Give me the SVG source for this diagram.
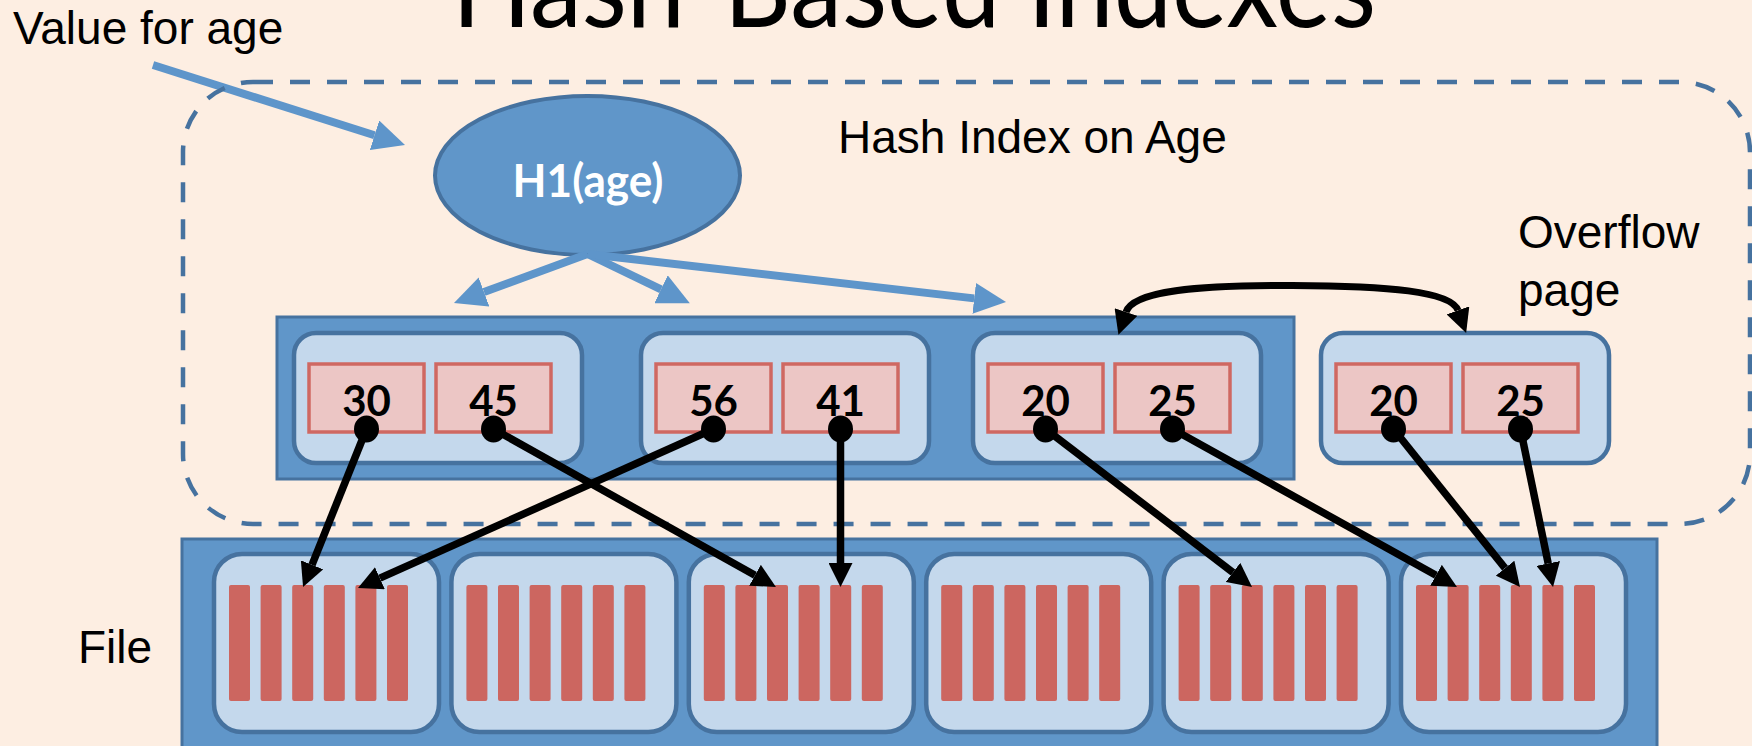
<svg xmlns="http://www.w3.org/2000/svg" xmlns:xlink="http://www.w3.org/1999/xlink" width="1752" height="746" viewBox="0 0 1752 746">
  <style>
    .lbl{font-family:"Liberation Sans",Arial,sans-serif;font-size:46px;fill:#000}
    .title{font-family:Lato,"Open Sans",sans-serif;font-size:114px;fill:#000}
    .num{font-family:Lato,"Liberation Sans",sans-serif;font-weight:bold;font-size:42px;fill:#000;text-anchor:middle}
    .fn{font-family:Lato,"Liberation Sans",sans-serif;font-weight:bold;font-size:45px;fill:#fff;text-anchor:middle}
    .frame{fill:#6096C9;stroke:#46729F;stroke-width:3}
    .bucket{fill:#C4D8EC;stroke:#46729F;stroke-width:4.5}
    .rec{fill:#ECC6C5;stroke:#CF6862;stroke-width:3.5}
    .bar{fill:#CC6660}
    .dot{fill:#000}
    .ptr{stroke:#000;stroke-width:7.5;fill:none;marker-end:url(#headK)}
    .hash{stroke:#5E95CA;stroke-width:8;fill:none;marker-end:url(#headB)}
    .scope{fill:none;stroke:#46729F;stroke-width:4.5;stroke-dasharray:20 17}
  </style>
  <defs>
    <marker id="headK" markerUnits="userSpaceOnUse" viewBox="0 0 24 24" markerWidth="24" markerHeight="24" refX="0" refY="12" orient="auto-start-reverse">
      <path d="M0,0 L24,12 L0,24 Z" fill="#000"/>
    </marker>
    <marker id="headB" markerUnits="userSpaceOnUse" viewBox="0 0 32 31" markerWidth="32" markerHeight="31" refX="0" refY="15.5" orient="auto">
      <path d="M0,0 L32,15.5 L0,31 Z" fill="#5E95CA"/>
    </marker>
    <!-- index bucket: light page holding two record slots -->
    <g id="bucketShape">
      <rect class="bucket" x="0" y="0" width="288" height="130" rx="22"/>
      <rect class="rec" x="15" y="31" width="115" height="68"/>
      <rect class="rec" x="142" y="31" width="115" height="68"/>
    </g>
    <!-- data file page with six records -->
    <g id="pageShape">
      <rect class="bucket" x="0" y="0" width="225" height="178" rx="28"/>
      <rect class="bar" x="15" y="31" width="21" height="116" rx="2"/>
      <rect class="bar" x="46.6" y="31" width="21" height="116" rx="2"/>
      <rect class="bar" x="78.2" y="31" width="21" height="116" rx="2"/>
      <rect class="bar" x="109.8" y="31" width="21" height="116" rx="2"/>
      <rect class="bar" x="141.4" y="31" width="21" height="116" rx="2"/>
      <rect class="bar" x="173" y="31" width="21" height="116" rx="2"/>
    </g>
  </defs>

  <rect x="0" y="0" width="1752" height="746" fill="#FDEEE2"/>

  <text class="title" x="452" y="27" textLength="924" lengthAdjust="spacingAndGlyphs">Hash-Based Indexes</text>

  <g id="value-label"><text class="lbl" x="13" y="44">Value for age</text></g>
  <g id="index-label"><text class="lbl" x="838" y="153">Hash Index on Age</text></g>
  <g id="overflow-label"><text class="lbl" x="1518" y="248">Overflow</text><text class="lbl" x="1518" y="306">page</text></g>
  <g id="file-label"><text class="lbl" x="78" y="663">File</text></g>

  <!-- incoming key value -->
  <line class="hash" x1="153" y1="65" x2="374.5" y2="135.3"/>

  <!-- extent of the hash index -->
  <rect id="index-scope" class="scope" x="183" y="82" width="1567" height="442" rx="70"/>

  <g id="hash-fn">
    <ellipse cx="587.5" cy="175.5" rx="152.5" ry="79.5" fill="#6096C9" stroke="#46729F" stroke-width="4"/>
    <text class="fn" x="588" y="197" textLength="151" lengthAdjust="spacingAndGlyphs">H1(age)</text>
  </g>

  <!-- primary bucket pages -->
  <g id="primary-pages">
    <rect class="frame" x="277" y="317" width="1017" height="162"/>
    <g id="bucket-1">
      <use xlink:href="#bucketShape" x="294" y="333"/>
      <text class="num" x="366.5" y="416">30</text>
      <text class="num" x="493.5" y="416">45</text>
    </g>
    <g id="bucket-2">
      <use xlink:href="#bucketShape" x="641" y="333"/>
      <text class="num" x="713.5" y="416">56</text>
      <text class="num" x="840.5" y="416">41</text>
    </g>
    <g id="bucket-3">
      <use xlink:href="#bucketShape" x="973" y="333"/>
      <text class="num" x="1045.5" y="416">20</text>
      <text class="num" x="1172.5" y="416">25</text>
    </g>
  </g>

  <g id="overflow-bucket">
    <use xlink:href="#bucketShape" x="1321" y="333"/>
    <text class="num" x="1393.5" y="416">20</text>
    <text class="num" x="1520.5" y="416">25</text>
  </g>

  <!-- heap file -->
  <g id="file">
    <rect class="frame" x="182" y="539" width="1475" height="230"/>
    <use id="page-1" xlink:href="#pageShape" x="214" y="554"/>
    <use id="page-2" xlink:href="#pageShape" x="451.4" y="554"/>
    <use id="page-3" xlink:href="#pageShape" x="688.8" y="554"/>
    <use id="page-4" xlink:href="#pageShape" x="926.2" y="554"/>
    <use id="page-5" xlink:href="#pageShape" x="1163.6" y="554"/>
    <use id="page-6" xlink:href="#pageShape" x="1401" y="554"/>
  </g>

  <g id="connectors">
    <!-- hash function to buckets -->
    <line class="hash" x1="587.5" y1="254" x2="484" y2="292"/>
    <line class="hash" x1="587.5" y1="254" x2="661" y2="289.3"/>
    <line class="hash" x1="587.5" y1="254" x2="974.2" y2="298.4"/>
    <!-- overflow chain -->
    <path d="M1126,312 C1133,291 1196,285 1292,285.5 C1388,286 1451,291 1458,310.4" fill="none" stroke="#000" stroke-width="7" marker-start="url(#headK)" marker-end="url(#headK)"/>
    <!-- record pointers into the file -->
    <line class="ptr" x1="366.5" y1="429" x2="312" y2="564.8"/>
    <line class="ptr" x1="493.5" y1="429" x2="755" y2="575.3"/>
    <line class="ptr" x1="713.5" y1="429" x2="379.9" y2="578.2"/>
    <line class="ptr" x1="840.5" y1="429" x2="840.5" y2="563"/>
    <line class="ptr" x1="1045.5" y1="429" x2="1233" y2="572.4"/>
    <line class="ptr" x1="1172.5" y1="429" x2="1436" y2="575.3"/>
    <line class="ptr" x1="1393.5" y1="429" x2="1505" y2="568.2"/>
    <line class="ptr" x1="1520.5" y1="429" x2="1548.2" y2="563.5"/>
    <ellipse class="dot" cx="366.5" cy="429" rx="12.5" ry="13.5"/>
    <ellipse class="dot" cx="493.5" cy="429" rx="12.5" ry="13.5"/>
    <ellipse class="dot" cx="713.5" cy="429" rx="12.5" ry="13.5"/>
    <ellipse class="dot" cx="840.5" cy="429" rx="12.5" ry="13.5"/>
    <ellipse class="dot" cx="1045.5" cy="429" rx="12.5" ry="13.5"/>
    <ellipse class="dot" cx="1172.5" cy="429" rx="12.5" ry="13.5"/>
    <ellipse class="dot" cx="1393.5" cy="429" rx="12.5" ry="13.5"/>
    <ellipse class="dot" cx="1520.5" cy="429" rx="12.5" ry="13.5"/>
  </g>
</svg>
